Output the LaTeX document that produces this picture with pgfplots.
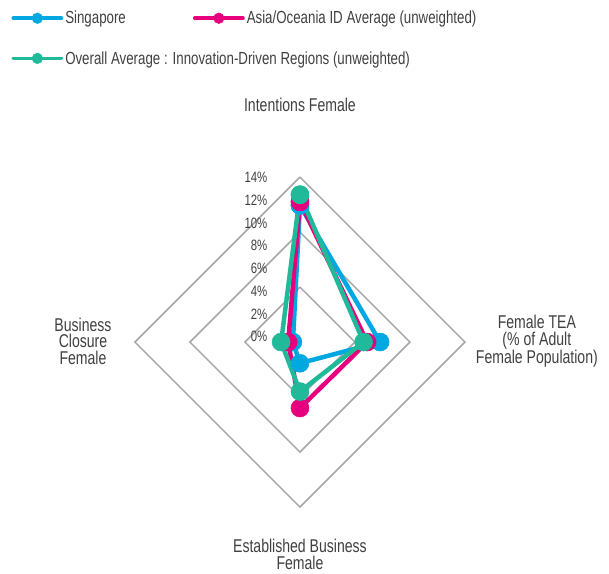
\documentclass[border=0pt]{standalone}
\usepackage{pgfplots}
\pgfplotsset{compat=1.18}
\usepackage{fontspec}
\setmainfont[FakeStretch=0.76]{Liberation Sans}
\definecolor{sgblue}{HTML}{00A8E1}
\definecolor{aspink}{HTML}{E6007E}
\definecolor{ovgreen}{HTML}{20B99A}
\definecolor{gridgray}{HTML}{A6A6A6}
\definecolor{txt}{HTML}{404040}
\pgfplotsset{
  radarbase/.style={width=609pt,height=574pt,scale only axis,
    xmin=-25.45,xmax=26.22,ymin=-19.68,ymax=29.02,hide axis,clip=false},
  serie/.style={color=#1,line width=4.5pt,line join=round,mark=*,mark size=9pt,mark options={fill=#1,draw=#1,line width=0.5pt}},
  legend image code/.code={\draw[mark repeat=2,mark phase=2,#1,line width=3.8pt,line cap=round,mark size=5.3pt] plot coordinates {(0pt,0pt) (24pt,0pt) (48pt,0pt)};},
}
\begin{document}
\begin{tikzpicture}
\begin{axis}[radarbase,
  legend style={at={(axis cs:-24.75,28.43)},anchor=north west,draw=none,fill=none,
    font=\fontsize{17.5}{19}\selectfont\color{txt},row sep=22pt,
    /tikz/every even column/.append style={column sep=0pt}},
  legend cell align=left]
\coordinate (bl) at (rel axis cs:0,0);
\coordinate (tr) at (rel axis cs:1,1);
% grid diamonds
\addplot[gridgray,line width=1.5pt,forget plot] coordinates {(0,4.6667) (4.6667,0) (0,-4.6667) (-4.6667,0) (0,4.6667)};
\addplot[gridgray,line width=1.5pt,forget plot] coordinates {(0,9.3333) (9.3333,0) (0,-9.3333) (-9.3333,0) (0,9.3333)};
\addplot[gridgray,line width=1.5pt,forget plot] coordinates {(0,14) (14,0) (0,-14) (-14,0) (0,14)};
% series: Intentions (up), Female TEA (right), Established (down), Closure (left)
\addplot[serie=sgblue] coordinates {(0,11.6) (6.8,0) (0,-1.8) (-0.6,0) (0,11.6)};
\addlegendentry{Singapore}
\addplot[serie=aspink,forget plot] coordinates {(0,11.9) (5.7,0) (0,-5.6) (-1.0,0) (0,11.9)};
\addplot[serie=ovgreen] coordinates {(0,12.5) (5.4,0) (0,-4.2) (-1.6,0) (0,12.5)};
\addlegendentry{Overall Average : Innovation-Driven Regions (unweighted)}
% value labels
\begin{scope}[every node/.style={anchor=east,inner sep=0pt,font=\fontsize{15}{16}\selectfont,text=txt}]
\node at (axis cs:-2.75,0.45) {0\%};
\node at (axis cs:-2.75,2.38) {2\%};
\node at (axis cs:-2.75,4.31) {4\%};
\node at (axis cs:-2.75,6.25) {6\%};
\node at (axis cs:-2.75,8.18) {8\%};
\node at (axis cs:-2.75,10.11) {10\%};
\node at (axis cs:-2.75,12.04) {12\%};
\node at (axis cs:-2.75,13.97) {14\%};
\end{scope}
% category labels
\begin{scope}[every node/.style={align=center,inner sep=0pt,font=\fontsize{18.5}{16.7}\selectfont,text=txt}]
\node at (axis cs:0,20.1) {Intentions Female};
\node at (axis cs:20.1,0.08) {Female TEA\\(\% of Adult\\Female Population)};
\node at (axis cs:-18.41,0.08) {Business\\Closure\\Female};
\node at (axis cs:0,-18.0) {Established Business\\Female};
\end{scope}
\end{axis}
\begin{axis}[radarbase,
  legend style={at={(axis cs:-9.35,28.43)},anchor=north west,draw=none,fill=none,
    font=\fontsize{17.5}{19}\selectfont\color{txt}},
  legend cell align=left]
\addlegendimage{serie=aspink}
\addlegendentry{Asia/Oceania ID Average (unweighted)}
\end{axis}
\pgfresetboundingbox
\path[use as bounding box] (bl) rectangle (tr);
\end{tikzpicture}
\end{document}
